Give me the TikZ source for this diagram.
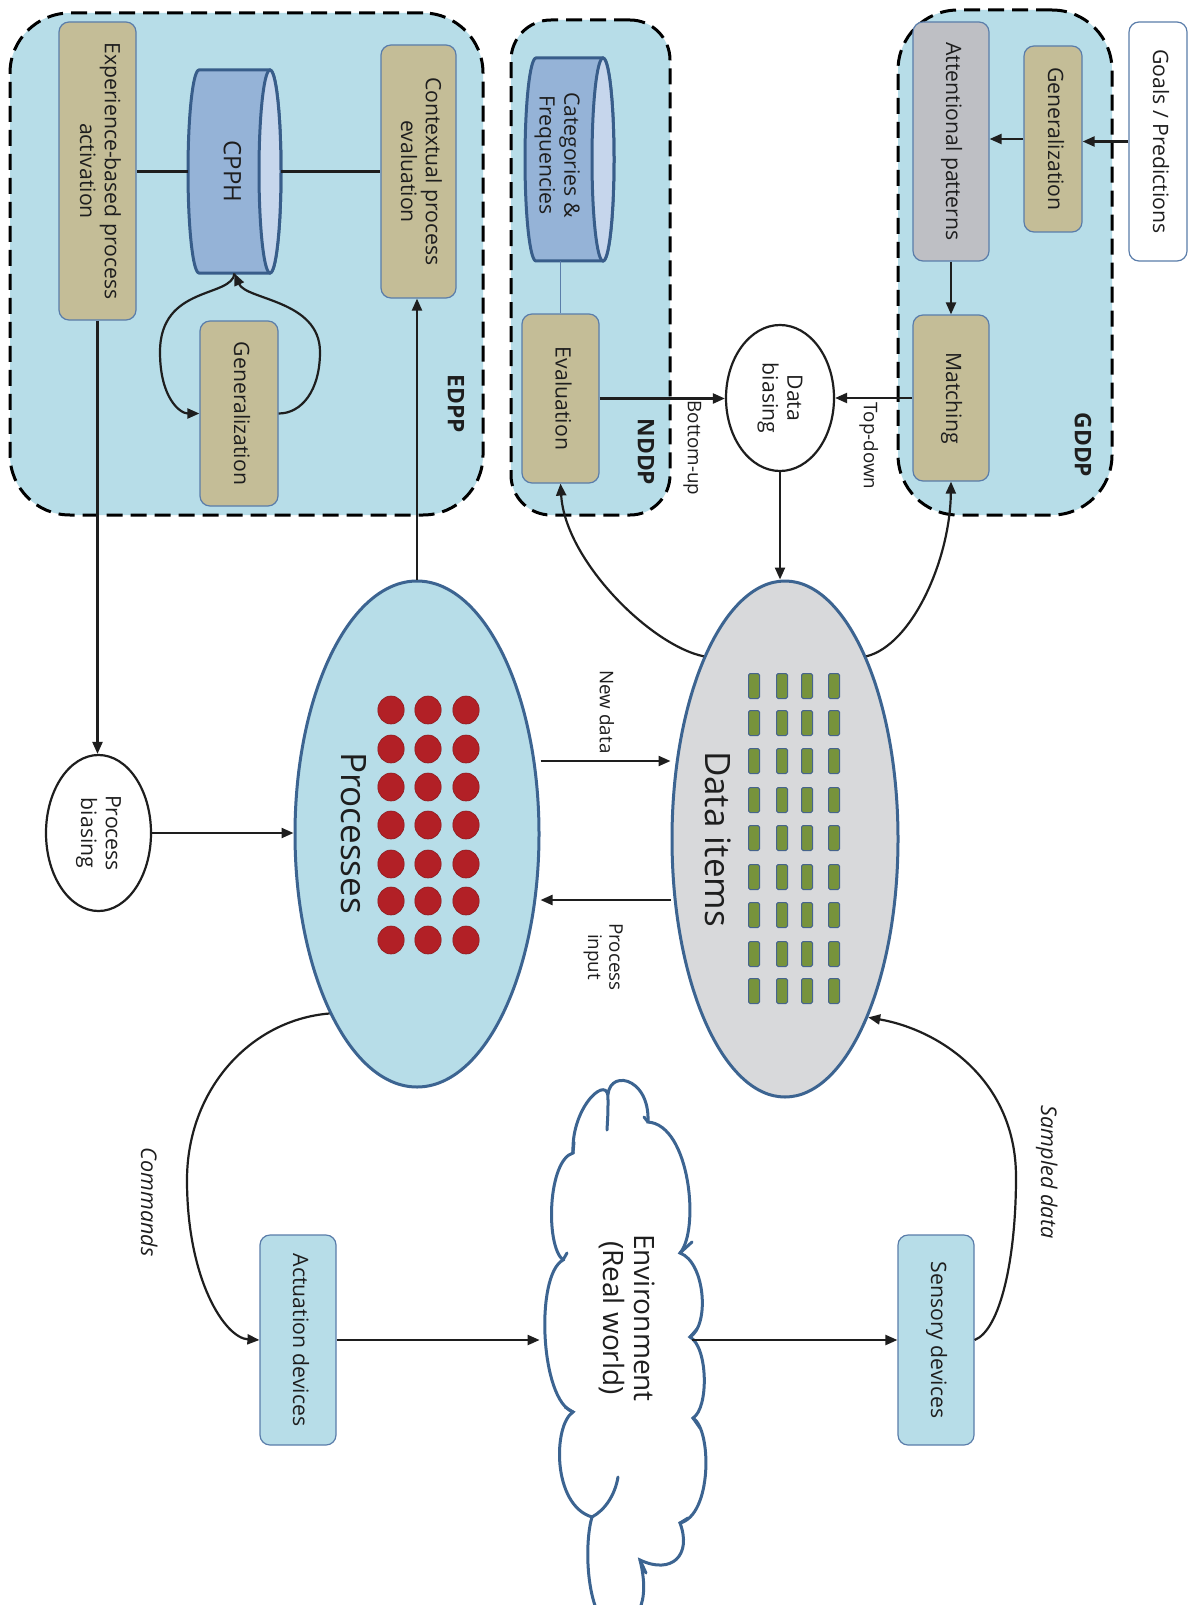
\documentclass[tikz,border=0pt]{standalone}
\usepackage{fontspec}
\setmainfont{Open Sans}
\usetikzlibrary{arrows.meta,shapes.geometric}
\definecolor{panel}{RGB}{183,221,232}
\definecolor{tanc}{RGB}{196,189,151}
\definecolor{boxborder}{RGB}{90,125,170}
\definecolor{attngray}{RGB}{190,191,196}
\definecolor{cylbody}{RGB}{149,179,215}
\definecolor{cyltop}{RGB}{198,214,236}
\definecolor{cylborder}{RGB}{56,93,138}
\definecolor{procborder}{RGB}{60,100,145}
\definecolor{datafill}{RGB}{216,217,219}
\definecolor{dotred}{RGB}{178,32,38}
\definecolor{rectgreen}{RGB}{119,147,60}
\definecolor{rectborder}{RGB}{70,100,140}
\definecolor{linecol}{RGB}{30,30,30}
\definecolor{txt}{RGB}{30,30,30}
\newcommand\FntBox{\fontsize{10.6}{12.4}\selectfont}
\newcommand\FntCyl{\fontsize{12}{13}\selectfont}
\newcommand\FntSmall{\fontsize{9.4}{10.6}\selectfont}
\newcommand\FntBig{\fontsize{17.5}{20}\selectfont}
\newcommand\FntEnv{\fontsize{14}{15}\selectfont}
\newcommand\FntLbl{\fontsize{11.4}{13}\selectfont\bfseries}
\newcommand\FntIt{\fontsize{10.8}{12}\selectfont\itshape}
\newcommand\rtxt[1]{\rotatebox{-90}{\begin{tabular}{@{}c@{}}#1\end{tabular}}}
\tikzset{
  conn/.style={line width=1.1pt, draw=linecol},
  arr/.style={conn, -{Triangle[length=6pt,width=5pt]}},
  panelbox/.style={rectangle, draw=black, line width=1.5pt, dash pattern=on 8pt off 4pt, fill=panel, rounded corners=30pt, inner sep=0pt},
  basebox/.style={rectangle, rounded corners=5pt, draw=boxborder, line width=0.6pt, inner sep=0pt, font=\FntBox, text=txt},
  tanbox/.style={basebox, fill=tanc},
  graybox/.style={basebox, fill=attngray},
  bluebox/.style={basebox, fill=panel},
  whitebox/.style={basebox, fill=white},
  bigell/.style={ellipse, draw=procborder, line width=1.5pt, inner sep=0pt},
  smallell/.style={ellipse, draw=linecol, line width=1.1pt, fill=white, inner sep=0pt, font=\FntBox, text=txt},
  paneltag/.style={font=\FntLbl, text=txt, inner sep=0pt},
  smalltag/.style={font=\FntSmall, text=txt, inner sep=0pt},
  ittag/.style={font=\FntIt, text=txt, inner sep=0pt},
  cloudline/.style={draw=procborder, line width=1.5pt, line cap=round},
}
\begin{document}
\begin{tikzpicture}[x=0.5pt,y=-0.5pt]
\useasboundingbox[fill=white] (0,0) rectangle (1190,1605);

% ---------- panels
\node[panelbox, minimum width=236.5pt, minimum height=251pt] (edpp) at (246.5,264) {};
\node[panelbox, rounded corners=20pt, minimum width=79.5pt, minimum height=247.5pt] (nddp) at (590.5,267.5) {};
\node[panelbox, minimum width=107pt, minimum height=252.5pt] (gddp) at (1005,262.5) {};
\node[paneltag] (edpptag) at (453,404) {\rtxt{EDPP}};
\node[paneltag] (nddptag) at (643,452) {\rtxt{NDDP}};
\node[paneltag] (gddptag) at (1080,445) {\rtxt{GDDP}};

% ---------- EDPP content
\node[tanbox, minimum width=38.5pt, minimum height=149pt] (exp) at (97.5,171) {\rtxt{Experience-based process\\activation}};
\node[tanbox, minimum width=37.5pt, minimum height=126.5pt] (ctx) at (418.5,171.5) {\rtxt{Contextual process\\evaluation}};
\node[tanbox, minimum width=39pt, minimum height=92.5pt] (gen1) at (239,413.5) {\rtxt{Generalization}};

% CPPH cylinder
\filldraw[fill=cylbody, draw=cylborder, line width=1.5pt] (199,70) -- (270,70)
  arc[start angle=90, end angle=-90, x radius=5.5pt, y radius=50.75pt] -- (199,273)
  arc[start angle=270, end angle=90, x radius=5.5pt, y radius=50.75pt] -- cycle;
\filldraw[fill=cyltop, draw=cylborder, line width=1.5pt] (270,171.5) ellipse[x radius=5.5pt, y radius=50.75pt];
\node[inner sep=0pt, minimum width=46.5pt, minimum height=101.5pt] (cpph) at (234.5,171.5) {};
\node[font=\FntCyl, text=txt, inner sep=0pt] (cpphtxt) at (229,171.5) {\rtxt{CPPH}};

\draw[conn] (exp.east |- cpph.west) -- (cpph.west);
\draw[conn] (cpph.east) -- (cpph.east -| ctx.west);
\draw[arr] (cpph.south) .. controls (232,298) and (160,285) .. (160,352)
  .. controls (160,398) and (180,413.5) .. (gen1.west);
\draw[arr] (gen1.east) .. controls (302,413.5) and (320,390) .. (320,352)
  .. controls (320,300) and (246,300) .. (cpph.south);

% ---------- NDDP content
\filldraw[fill=cylbody, draw=cylborder, line width=1.5pt] (536,58) -- (603,58)
  arc[start angle=90, end angle=-90, x radius=5.5pt, y radius=50.75pt] -- (536,261)
  arc[start angle=270, end angle=90, x radius=5.5pt, y radius=50.75pt] -- cycle;
\filldraw[fill=cyltop, draw=cylborder, line width=1.5pt] (603,159.5) ellipse[x radius=5.5pt, y radius=50.75pt];
\node[inner sep=0pt, minimum width=44.5pt, minimum height=101.5pt] (cat) at (569.5,159.5) {};
\node[font=\FntBox, text=txt, inner sep=0pt] (cattxt) at (557,155) {\rtxt{Categories \&\\Frequencies}};
\node[tanbox, minimum width=38.5pt, minimum height=84.5pt] (eval) at (560.5,398.5) {\rtxt{Evaluation}};
\draw[draw=boxborder, line width=0.6pt] (eval.north) -- (eval.north |- cat.south);

% ---------- GDDP content
\node[graybox, minimum width=38pt, minimum height=119.5pt] (attn) at (951,141.5) {\rtxt{Attentional patterns}};
\node[tanbox, minimum width=29pt, minimum height=93pt] (gen2) at (1053,139) {\rtxt{Generalization}};
\node[whitebox, minimum width=29pt, minimum height=119.5pt] (goals) at (1158,141.5) {\rtxt{Goals / Predictions}};
\node[tanbox, minimum width=38pt, minimum height=83pt] (match) at (951,398) {\rtxt{Matching}};
\draw[arr] (goals.west) -- (goals.west -| gen2.east);
\draw[arr] (gen2.west) -- (gen2.west -| attn.east);
\draw[arr] (attn.south) -- (match.north);

% ---------- Data biasing
\node[smallell, minimum width=54pt, minimum height=73pt] (dbias) at (780,398) {\rtxt{Data\\biasing}};
\draw[arr] (eval.east) -- (eval.east -| dbias.west);
\draw[arr] (match.west) -- (match.west -| dbias.east);
\node[smalltag] (butag) at (692,448) {\rtxt{Bottom-up}};
\node[smalltag] (tdtag) at (868,446) {\rtxt{Top-down}};

% ---------- Processes
\node[bigell, fill=panel, minimum width=122pt, minimum height=253pt] (proc) at (417,834) {};
\foreach \cx in {391,428,466}{
  \foreach \cy in {710,749,787,825,864,901,940}{
    \filldraw[fill=dotred, draw=dotred!80!black, line width=0.3pt] (\cx,\cy) ellipse[x radius=6.6pt, y radius=7pt];
  }
}
\node[font=\FntBig, text=txt, inner sep=0pt] (proctxt) at (349,833) {\rtxt{Processes}};

% ---------- Data items
\node[bigell, fill=datafill, minimum width=113pt, minimum height=258pt] (data) at (785,839) {};
\foreach \cx in {754,782,807,834}{
  \foreach \cy in {686,723,761,800,838,877,915,954,991}{
    \filldraw[fill=rectgreen, draw=rectborder, line width=0.5pt, rounded corners=0.8pt] (\cx-5.5,\cy-12.5) rectangle (\cx+5.5,\cy+12.5);
  }
}
\node[font=\FntBig, text=txt, inner sep=0pt] (datatxt) at (713,839) {\rtxt{Data items}};

\draw[arr] (dbias.south) -- (dbias.south |- data.north);
\draw[arr] (data.114) .. controls (650,645) and (565,560) .. (eval.south);
\draw[arr] (data.66) .. controls (912,645) and (950,560) .. (match.south);

% ---------- Process biasing
\node[smallell, minimum width=52.5pt, minimum height=78pt] (pbias) at (98.5,833) {\rtxt{Process\\biasing}};
\draw[arr] (exp.south) -- (exp.south |- pbias.north);
\draw[arr] (pbias.east) -- (pbias.east -| proc.west);
\draw[arr] (proc.north) -- (proc.north |- ctx.south);

% New data / Process input
\draw[arr] (proc.east |- 0,761) -- (data.west |- 0,761);
\draw[arr] (data.west |- 0,900) -- (proc.east |- 0,900);
\node[smalltag] (ndtag) at (604,712) {\rtxt{New data}};
\node[smalltag] (pitag) at (603,957) {\rtxt{Process\\input}};

% ---------- Environment cloud (drawn)
\filldraw[fill=white, cloudline]
  (573,1153) .. controls (571,1105) and (610,1072) .. (608,1100)
  .. controls (605,1068) and (650,1075) .. (648,1122)
  .. controls (690,1125) and (700,1230) .. (680,1253)
  .. controls (705,1262) and (710,1325) .. (690,1337)
  .. controls (708,1347) and (709,1408) .. (693,1418)
  .. controls (712,1430) and (712,1515) .. (680,1523)
  .. controls (692,1555) and (672,1575) .. (640,1560)
  .. controls (650,1600) and (640,1630) .. (605,1625)
  .. controls (585,1600) and (585,1540) .. (592,1517)
  .. controls (552,1505) and (553,1425) .. (573,1412)
  .. controls (540,1400) and (535,1275) .. (563,1260)
  .. controls (545,1245) and (548,1160) .. (573,1153) -- cycle;
% interior arcs of the cloud
\draw[cloudline] (608,1100) .. controls (608,1112) .. (607,1130);
\draw[cloudline] (618,1477) .. controls (615,1495) and (605,1510) .. (592,1517);
\draw[cloudline] (640,1560) -- (646,1573);
\draw[cloudline] (680,1253) -- (692,1242);
\draw[cloudline] (690,1337) -- (697,1329);
\draw[cloudline] (693,1418) -- (700,1428);
\draw[cloudline] (680,1523) -- (688,1518);
\draw[cloudline] (573,1412) -- (565,1407);
\draw[cloudline] (563,1260) -- (567,1253);
\draw[cloudline] (573,1153) -- (574,1142);
\draw[cloudline] (648,1122) -- (644,1117);
\node[ellipse, inner sep=0pt, minimum width=83pt, minimum height=268pt] (env) at (623,1340) {};
\node[font=\FntEnv, text=txt, inner sep=0pt] (envtxt) at (625,1318) {\rtxt{Environment\\(Real world)}};

% ---------- Devices
\node[bluebox, minimum width=38pt, minimum height=105pt] (act) at (298,1340) {\rtxt{Actuation devices}};
\node[bluebox, minimum width=38pt, minimum height=105pt] (sens) at (936,1340) {\rtxt{Sensory devices}};
\draw[arr] (act.east) -- (env.west);
\draw[arr] ([xshift=-7pt]env.east) -- (sens.west);

\draw[arr] (proc.244) .. controls (250,1020) and (187,1090) .. (187,1180)
  .. controls (187,1280) and (225,1338) .. (act.west);
\draw[arr] (sens.east) .. controls (1000,1330) and (1016,1260) .. (1016,1177)
  .. controls (1016,1080) and (940,1030) .. (data.-65);
\node[ittag] (cmdtag) at (146,1202) {\rtxt{Commands}};
\node[ittag] (sdtag) at (1046,1172) {\rtxt{Sampled data}};
\end{tikzpicture}
\end{document}
